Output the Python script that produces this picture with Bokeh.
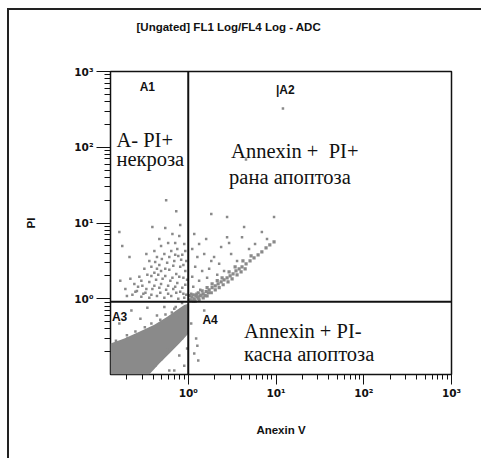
from bokeh.plotting import figure
from bokeh.models import FixedTicker, Span, Label, Range1d
from bokeh.embed import file_html
from bokeh.resources import INLINE

# ---------------- data ----------------
title_text = "[Ungated] FL1 Log/FL4 Log - ADC"
x_label = "Anexin V"
y_label = "PI"

annexin_range = (0.13, 1000)
pi_range = (0.1, 1000)
major_ticks = [1, 10, 100, 1000]
tick_labels = {1: "10⁰", 10: "10¹", 100: "10²", 1000: "10³"}
minor_ticks = [0.2, 0.3, 0.4, 0.5, 0.6, 0.7, 0.8, 0.9,
               2, 3, 4, 5, 6, 7, 8, 9,
               20, 30, 40, 50, 60, 70, 80, 90,
               200, 300, 400, 500, 600, 700, 800, 900]

gate_annexin = 1.0
gate_pi = 0.91

# dense live-cell population (A3), outline of the solid cloud
dense_annexin = [0.13, 0.13, 0.187, 0.277, 0.411, 0.577, 0.75, 0.90, 1.0, 1.0, 0.79, 0.61, 0.468, 0.36]
dense_pi = [0.1, 0.256, 0.298, 0.368, 0.455, 0.58, 0.716, 0.83, 0.86, 0.346, 0.256, 0.189, 0.14, 0.1]

# scattered events, A1 (Annexin-, PI+)
a1_annexin = [0.177, 0.39, 0.547, 0.66, 0.79, 0.90, 0.56, 0.214, 0.168, 0.219,
              0.36, 0.44, 0.534, 0.64, 0.75, 0.855, 0.95, 0.316, 0.38, 0.468,
              0.575, 0.693, 0.81, 0.925, 0.277, 0.342, 0.411, 0.49, 0.608, 0.73,
              0.88, 0.243, 0.30, 0.36, 0.43, 0.51, 0.625, 0.75, 0.925, 0.26,
              0.325, 0.39, 0.468, 0.56, 0.675, 0.81, 0.95, 0.292, 0.36, 0.44,
              0.534, 0.64, 0.77, 0.90, 0.192, 0.231, 0.411, 0.49, 0.71, 0.333,
              0.42, 0.50, 0.608, 0.71, 0.83, 0.292, 0.38, 0.455, 0.547, 0.66,
              0.79, 0.97, 0.268, 0.333, 0.411, 0.49, 0.59, 0.71, 0.855, 0.308,
              0.38, 0.48, 0.59, 0.73, 0.88, 0.20, 0.25, 0.675, 0.547, 0.44,
              0.88, 0.77, 0.925, 0.59, 0.468, 0.81, 0.164, 0.73]
a1_pi = [4.98, 8.86, 8.6, 7.17, 6.75, 5.29, 20.0, 3.57, 1.73, 1.83,
         3.16, 3.57, 3.91, 4.28, 4.55, 3.8, 3.16, 2.48, 2.64, 2.8,
         2.98, 3.16, 2.64, 2.33, 1.95, 2.07, 2.2, 2.33, 2.41, 2.13,
         1.89, 1.57, 1.48, 1.67, 1.78, 1.83, 1.73, 1.62, 1.53, 1.27,
         1.2, 1.35, 1.40, 1.31, 1.35, 1.24, 1.13, 1.06, 1.03, 1.09,
         1.03, 1.09, 1.0, 1.03, 1.35, 1.13, 4.28, 4.98, 5.45, 3.91,
         3.06, 3.36, 3.57, 3.8, 3.26, 1.73, 2.0, 2.07, 2.0, 1.89,
         1.95, 1.78, 1.44, 1.35, 1.48, 1.57, 1.48, 1.44, 1.40, 1.16,
         1.13, 1.2, 1.16, 1.2, 1.16, 1.09, 1.24, 2.72, 2.48, 2.48,
         2.8, 3.68, 4.28, 5.45, 6.16, 9.4, 7.6, 14.3]

# scattered events, A2 (Annexin+, PI+)
a2_annexin = [1.17, 1.83, 2.77, 4.33, 2.77, 6.9, 9.5, 4.1, 12.0, 4.55,
              1.11, 1.27, 1.52, 1.83, 2.25, 1.2, 1.44, 1.73, 2.14, 2.56,
              1.11, 1.33, 1.64, 1.14, 1.37, 1.08, 1.97, 3.08, 3.6, 1.33,
              2.37, 4.93, 5.77, 7.9, 2.92, 1.6]
a2_pi = [7.17, 13.1, 12.0, 8.86, 6.5, 7.6, 12.0, 6.5, 325, 69,
         4.55, 3.57, 3.91, 3.16, 2.89, 2.64, 2.33, 2.48, 2.07, 2.33,
         1.95, 1.73, 1.89, 1.44, 1.31, 1.16, 3.57, 3.91, 3.16, 5.29,
         4.82, 4.55, 5.29, 6.16, 5.45, 6.16]

# diagonal streak of double-positive events leaving the live population
streak_annexin = [1.08, 1.17, 1.27, 1.37, 1.48, 1.6, 1.73, 1.87, 2.03, 2.19,
                  2.37, 2.56, 2.77, 3.0, 3.24, 3.5, 3.8, 4.1, 4.56, 5.06,
                  5.62, 6.25, 6.9, 7.7, 8.5, 9.5,
                  1.2, 1.33, 1.48, 1.64, 1.83, 2.03, 2.25, 2.5, 2.84, 3.16,
                  3.6, 4.0, 4.45, 1.14, 1.30, 1.44, 1.64, 1.87, 2.14, 2.43,
                  2.92, 3.42, 4.2, 5.2,
                  1.05, 1.1, 1.22, 1.15, 1.3, 1.4, 1.55, 1.7, 1.25, 1.05]
streak_pi = [0.94, 1.0, 1.06, 1.09, 1.16, 1.24, 1.31, 1.40, 1.48, 1.57,
             1.67, 1.78, 1.89, 2.0, 2.13, 2.33, 2.48, 2.64, 2.89, 3.16,
             3.46, 3.8, 4.15, 4.69, 5.13, 5.63,
             0.93, 0.97, 1.03, 1.09, 1.2, 1.31, 1.40, 1.53, 1.67, 1.83,
             2.07, 2.27, 2.48, 1.13, 1.2, 1.27, 1.40, 1.57, 1.73, 1.89,
             2.27, 2.64, 3.16, 3.68,
             0.97, 1.05, 1.1, 0.93, 1.02, 1.12, 1.1, 1.2, 1.15, 1.1]

# scattered events around the live cloud, A3
a3_annexin = [0.285, 0.44, 0.693, 0.37, 0.203, 0.79, 0.693, 0.90, 0.79, 0.97,
              0.164, 0.225, 0.534, 0.342, 0.608,
              0.15, 0.2, 0.25, 0.32, 0.38, 0.48, 0.55, 0.65, 0.72, 0.85,
              0.33, 0.42, 0.5, 0.58, 0.7, 0.85, 0.95]
a3_pi = [0.546, 0.60, 0.74, 0.403, 0.298, 0.58, 0.113, 0.13, 0.178, 0.22,
         0.47, 0.70, 0.78, 0.76, 0.113,
         0.28, 0.33, 0.37, 0.42, 0.47, 0.53, 0.62, 0.66, 0.78, 0.88,
         0.11, 0.13, 0.16, 0.21, 0.24, 0.3, 0.4]

# scattered events, A4 (Annexin+, PI-)
a4_annexin = [1.23, 1.27, 1.30, 1.08, 1.17, 1.52]
a4_pi = [0.298, 0.24, 0.153, 0.47, 0.19, 0.70]

dot_color = "#8a8a8a"
ink = "#111111"

# ---------------- figure ----------------
p = figure(width=474, height=450,
           x_axis_type="log", y_axis_type="log",
           x_range=Range1d(*annexin_range), y_range=Range1d(*pi_range),
           output_backend="svg", toolbar_location=None,
           min_border_left=101, min_border_right=32,
           min_border_top=61, min_border_bottom=86,
           background_fill_color="white", border_fill_color="white",
           styles={"margin-left": "7px", "margin-top": "8px",
                   "border-left": "2px solid #222", "border-top": "2px solid #222"})

# trailing blank lines lift the title well above the frame
p.title.text = title_text + "\n\u00a0\n\u00a0\n\u00a0"
p.title.align = "left"
p.title.offset = 26
p.title.standoff = 2
p.title.vertical_align = "top"
p.title.text_font = "Liberation Sans"
p.title.text_font_size = "11.5px"
p.title.text_font_style = "bold"
p.title.text_color = ink

p.grid.visible = False
p.outline_line_color = ink
p.outline_line_width = 1.5

for ax in (p.xaxis[0], p.yaxis[0]):
    ax.ticker = FixedTicker(ticks=major_ticks, minor_ticks=minor_ticks)
    ax.major_label_overrides = tick_labels
    ax.axis_line_color = None
    ax.major_tick_line_color = ink
    ax.minor_tick_line_color = ink
    ax.major_tick_in = 0
    ax.minor_tick_in = 0
    ax.major_label_text_font = "DejaVu Sans"
    ax.major_label_text_font_style = "bold"
    ax.major_label_text_font_size = "10.5px"
    ax.major_label_text_color = ink
    ax.axis_label_text_font = "Liberation Sans"
    ax.axis_label_text_font_style = "bold"
    ax.axis_label_text_font_size = "11.5px"
    ax.axis_label_text_color = ink

p.xaxis.axis_label = x_label
p.xaxis.major_tick_out = 10
p.xaxis.minor_tick_out = 5
p.xaxis.major_label_standoff = 2
p.xaxis.axis_label_standoff = 22

p.yaxis.axis_label = y_label
p.yaxis.major_tick_out = 14
p.yaxis.minor_tick_out = 6
p.yaxis.major_label_standoff = 3
p.yaxis.axis_label_standoff = 34

# dense population
p.patch(dense_annexin, dense_pi, fill_color=dot_color, line_color=None)

for xs, ys, sz in ((a1_annexin, a1_pi, 2.5), (a2_annexin, a2_pi, 2.5),
                   (streak_annexin, streak_pi, 3.2), (a3_annexin, a3_pi, 2.5),
                   (a4_annexin, a4_pi, 2.5)):
    p.scatter(xs, ys, marker="square", size=sz, fill_color=dot_color,
              line_color=None)

# quadrant gate lines
p.add_layout(Span(location=gate_annexin, dimension="height", line_color=ink, line_width=2))
p.add_layout(Span(location=gate_pi, dimension="width", line_color=ink, line_width=2))

# region labels
def lab(x, y, text, align="left"):
    p.add_layout(Label(x=x, y=y, text=text, text_font="Liberation Sans",
                       text_font_size="12px", text_font_style="bold",
                       text_align=align, text_baseline="middle", text_color=ink))

lab(0.342, 633, "A1", "center")
lab(10.0, 578, "|A2")
lab(0.135, 0.58, "A3")
lab(1.45, 0.53, "A4")

def serif(x, y, text):
    p.add_layout(Label(x=x, y=y, text=text, text_font="Liberation Serif",
                       text_font_size="20.5px", text_align="left",
                       text_baseline="alphabetic", text_color=ink))

serif(0.152, 125, "A- PI+")
serif(0.152, 69.5, "некроза")
serif(3.08, 88.6, "Annexin +\u00a0 PI+")
serif(2.92, 40.3, "рана апоптоза")
serif(4.33, 0.379, "Annexin + PI-")
serif(4.33, 0.189, "касна апоптоза")

open("out.html", "w").write(file_html(p, INLINE))
